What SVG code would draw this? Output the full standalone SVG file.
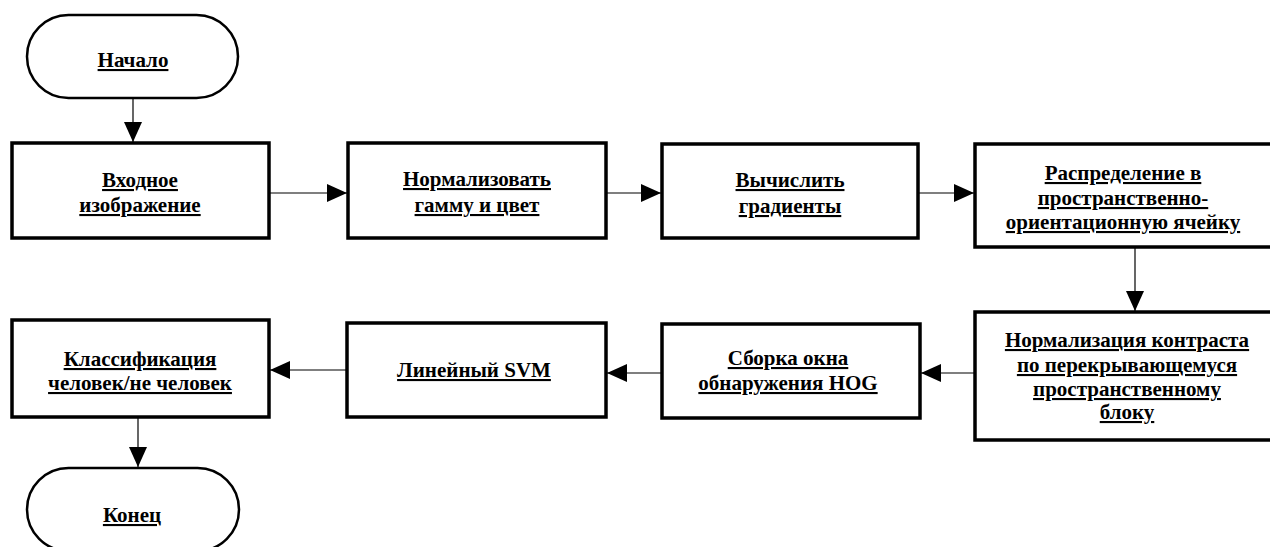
<svg xmlns="http://www.w3.org/2000/svg" width="1270" height="547" viewBox="0 0 1270 547">
<defs>
<style>
.box{fill:#fff;stroke:#000;stroke-width:3.5}
.term{fill:#fff;stroke:#000;stroke-width:2.5}
.t{font-family:'Liberation Serif','Times New Roman',Tinos,'DejaVu Serif',serif;font-weight:700;font-size:21px;text-anchor:middle;text-decoration:underline;fill:#000}
.c{stroke:#000;stroke-width:1.2;fill:none;marker-end:url(#ah)}
</style>
<marker id="ah" markerUnits="userSpaceOnUse" markerWidth="20" markerHeight="18" refX="20" refY="9" orient="auto">
<path d="M0,0 L20,9 L0,18 z" fill="#000"/>
</marker>
</defs>
<rect width="1270" height="547" fill="#fff"/>
<g id="connectors">
<line class="c" x1="133" y1="98" x2="133" y2="142"/>
<line class="c" x1="269" y1="193" x2="347" y2="193"/>
<line class="c" x1="606" y1="193" x2="661" y2="193"/>
<line class="c" x1="918" y1="193" x2="974" y2="193"/>
<line class="c" x1="1135" y1="247" x2="1135" y2="311"/>
<line class="c" x1="975" y1="373" x2="921" y2="373"/>
<line class="c" x1="662" y1="373" x2="607" y2="373"/>
<line class="c" x1="347" y1="370" x2="270" y2="370"/>
<line class="c" x1="138" y1="417" x2="138" y2="467"/>
</g>
<g id="start">
<rect class="term" x="27" y="15" width="211" height="83" rx="41.5" ry="41.5"/>
<text class="t" x="133" y="67">Начало</text>
</g>
<g id="input">
<rect class="box" x="12" y="143" width="257" height="95"/>
<text class="t" x="140" y="187">Входное</text>
<text class="t" x="140" y="212">изображение</text>
</g>
<g id="gamma">
<rect class="box" x="348" y="143" width="258" height="95"/>
<text class="t" x="477" y="186">Нормализовать</text>
<text class="t" x="477" y="212">гамму и цвет</text>
</g>
<g id="gradients">
<rect class="box" x="662" y="144" width="256" height="94"/>
<text class="t" x="790" y="187">Вычислить</text>
<text class="t" x="790" y="213">градиенты</text>
</g>
<g id="binning">
<rect class="box" x="975" y="144" width="305" height="103"/>
<text class="t" x="1123" y="180">Распределение в</text>
<text class="t" x="1123" y="205">пространственно-</text>
<text class="t" x="1123" y="229">ориентационную ячейку</text>
</g>
<g id="contrast">
<rect class="box" x="975" y="312" width="305" height="128"/>
<text class="t" x="1127" y="347">Нормализация контраста</text>
<text class="t" x="1127" y="372">по перекрывающемуся</text>
<text class="t" x="1127" y="396">пространственному</text>
<text class="t" x="1127" y="419">блоку</text>
</g>
<g id="hog">
<rect class="box" x="662" y="324" width="258" height="94"/>
<text class="t" x="788" y="365">Сборка окна</text>
<text class="t" x="788" y="390">обнаружения HOG</text>
</g>
<g id="svm">
<rect class="box" x="347" y="323" width="259" height="94"/>
<text class="t" x="474" y="377">Линейный SVM</text>
</g>
<g id="classify">
<rect class="box" x="12" y="320" width="257" height="97"/>
<text class="t" x="140" y="366">Классификация</text>
<text class="t" x="140" y="390">человек/не человек</text>
</g>
<g id="end">
<rect class="term" x="27" y="468" width="212" height="83" rx="41.5" ry="41.5"/>
<text class="t" x="132" y="522">Конец</text>
</g>
</svg>
